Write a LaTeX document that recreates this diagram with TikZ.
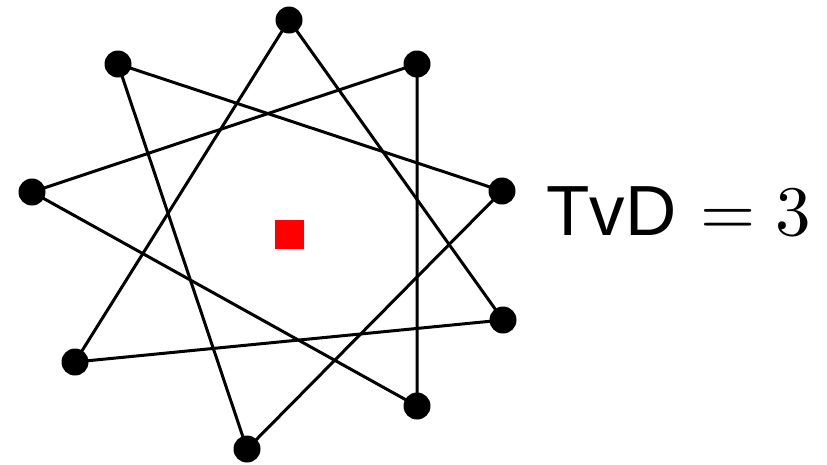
\documentclass[tikz,border=0pt]{standalone}
\usepackage{fontspec}
\newfontfamily\hv{Liberation Sans}
\begin{document}
\begin{tikzpicture}[x=1pt,y=-1pt,
  vtx/.style={circle,fill=black,inner sep=0pt,minimum size=27pt},
  edge/.style={line width=3pt}]
\useasboundingbox (0,0) rectangle (827,464);
\node[vtx] (a) at (289,20) {};
\node[vtx] (b) at (417,64) {};
\node[vtx] (c) at (502,191) {};
\node[vtx] (d) at (503,320) {};
\node[vtx] (e) at (417,406) {};
\node[vtx] (f) at (247,449) {};
\node[vtx] (g) at (75,362) {};
\node[vtx] (h) at (32,192) {};
\node[vtx] (i) at (118,64) {};
\draw[edge] (a.center) -- (d.center) -- (g.center) -- cycle;
\draw[edge] (b.center) -- (e.center) -- (h.center) -- cycle;
\draw[edge] (i.center) -- (c.center) -- (f.center) -- cycle;
\node[fill=red,inner sep=0pt,minimum size=29pt] (sq) at (289.5,234) {};
\node[anchor=base west,inner sep=0pt,scale=7.1,font=\fontsize{10}{12}\selectfont] (lbl) at (545,235) {{\hv TvD} $= 3$};
\end{tikzpicture}
\end{document}
